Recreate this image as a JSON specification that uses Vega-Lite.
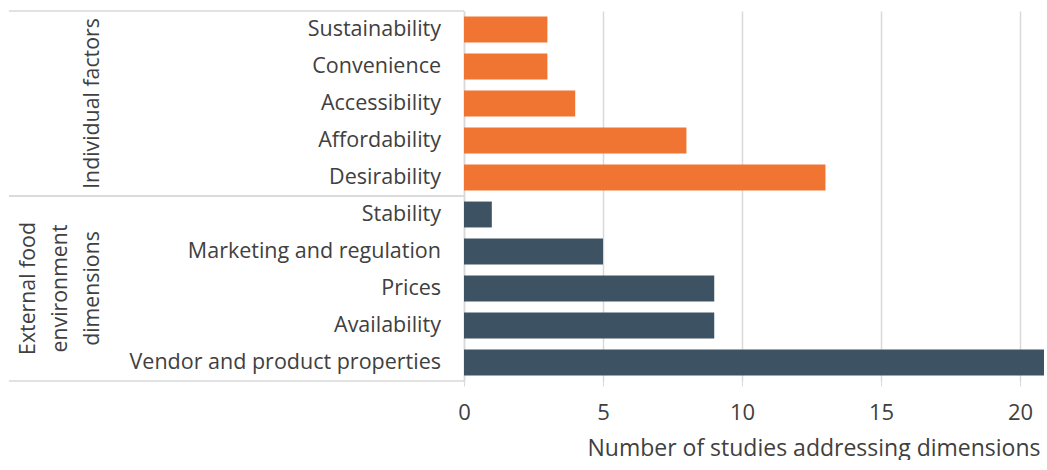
{
  "$schema": "https://vega.github.io/schema/vega-lite/v6.json",
  "padding": {"left": 8, "top": 10, "right": 0, "bottom": 0},
  "background": "white",
  "config": {"view": {"stroke": null}, "concat": {"spacing": 0}, "font": "Open Sans"},
  "bounds": "flush",
  "spacing": 0,
  "datasets": {
    "studies": [
      {"dimension": "Sustainability", "group": "Individual factors", "count": 3},
      {"dimension": "Convenience", "group": "Individual factors", "count": 3},
      {"dimension": "Accessibility", "group": "Individual factors", "count": 4},
      {"dimension": "Affordability", "group": "Individual factors", "count": 8},
      {"dimension": "Desirability", "group": "Individual factors", "count": 13},
      {"dimension": "Stability", "group": "External food\nenvironment\ndimensions", "count": 1},
      {"dimension": "Marketing and regulation", "group": "External food\nenvironment\ndimensions", "count": 5},
      {"dimension": "Prices", "group": "External food\nenvironment\ndimensions", "count": 9},
      {"dimension": "Availability", "group": "External food\nenvironment\ndimensions", "count": 9},
      {"dimension": "Vendor and product properties", "group": "External food\nenvironment\ndimensions", "count": 21}
    ]
  },
  "hconcat": [
    {
      "width": 90,
      "height": 370,
      "data": {"name": "studies"},
      "transform": [{"aggregate": [{"op": "count", "as": "n"}], "groupby": ["group"]}],
      "encoding": {
        "y": {"field": "group", "type": "nominal", "sort": ["Individual factors", "External food\nenvironment\ndimensions"], "scale": {"paddingInner": 0, "paddingOuter": 0}, "axis": null}
      },
      "layer": [
        {"mark": {"type": "rule", "color": "#d9d9d9", "strokeWidth": 1.5}, "encoding": {"y": {"field": "group", "type": "nominal", "bandPosition": 0, "sort": ["Individual factors", "External food\nenvironment\ndimensions"], "axis": null}}},
        {"mark": {"type": "rule", "color": "#d9d9d9", "strokeWidth": 1.5}, "encoding": {"y": {"field": "group", "type": "nominal", "bandPosition": 1, "sort": ["Individual factors", "External food\nenvironment\ndimensions"], "axis": null}}},
        {
          "transform": [{"filter": "datum.group === 'Individual factors'"}],
          "mark": {"type": "text", "angle": 270, "baseline": "alphabetic", "align": "center", "lineBreak": "\n", "fontSize": 21.3, "color": "#404040", "lineHeight": 32},
          "encoding": {"x": {"value": "width"}, "text": {"field": "group"}}
        },
        {
          "transform": [{"filter": "datum.group !== 'Individual factors'"}],
          "mark": {"type": "text", "angle": 270, "baseline": "alphabetic", "align": "center", "lineBreak": "\n", "fontSize": 21.3, "color": "#404040", "lineHeight": 32, "dy": -64},
          "encoding": {"x": {"value": "width"}, "text": {"field": "group"}}
        }
      ]
    },
    {
      "width": 365,
      "height": 370,
      "data": {"name": "studies"},
      "layer": [
        {
          "transform": [{"aggregate": [{"op": "count", "as": "n"}], "groupby": ["group"]}],
          "layer": [
            {"mark": {"type": "rule", "color": "#d9d9d9", "strokeWidth": 1.5}, "encoding": {"y": {"field": "group", "type": "nominal", "bandPosition": 0, "sort": ["Individual factors", "External food\nenvironment\ndimensions"], "scale": {"paddingInner": 0, "paddingOuter": 0}, "axis": null}}},
            {"mark": {"type": "rule", "color": "#d9d9d9", "strokeWidth": 1.5}, "encoding": {"y": {"field": "group", "type": "nominal", "bandPosition": 1, "sort": ["Individual factors", "External food\nenvironment\ndimensions"], "axis": null}}}
          ]
        },
        {
          "mark": {"type": "text", "align": "right", "baseline": "middle", "fontSize": 21.5, "color": "#404040", "dx": -23},
          "encoding": {
            "y": {"field": "dimension", "type": "nominal", "sort": null, "scale": {"paddingInner": 0, "paddingOuter": 0}, "axis": null},
            "x": {"value": "width"},
            "text": {"field": "dimension"}
          }
        }
      ],
      "resolve": {"scale": {"y": "independent"}}
    },
    {
      "width": 580,
      "height": 370,
      "data": {"name": "studies"},
      "mark": {"type": "bar", "height": {"band": 0.7}, "clip": true},
      "encoding": {
        "y": {"field": "dimension", "type": "nominal", "sort": null, "scale": {"paddingInner": 0, "paddingOuter": 0},
          "axis": {"labels": false, "ticks": false, "title": null, "domain": true, "domainColor": "#d9d9d9", "domainWidth": 1.5, "grid": false}},
        "x": {"field": "count", "type": "quantitative", "scale": {"domain": [0, 20.86], "nice": false},
          "axis": {"values": [0, 5, 10, 15, 20], "grid": true, "gridColor": "#d9d9d9", "gridWidth": 1.5, "domain": false, "ticks": true, "tickColor": "#d9d9d9", "tickSize": 5, "labelPadding": 16, "labelFlush": false, "labelFontSize": 22, "labelColor": "#404040", "labelFont": "Open Sans", "labelFontWeight": "normal",
            "title": "Number of studies addressing dimensions", "titleAnchor": "end", "titleAlign": "right", "titleX": 576, "titleFontSize": 23, "titleFontWeight": "normal", "titleColor": "#404040", "titleFont": "Open Sans", "titlePadding": 14}},
        "color": {"field": "group", "type": "nominal", "scale": {"domain": ["Individual factors", "External food\nenvironment\ndimensions"], "range": ["#F07532", "#3D5263"]}, "legend": null}
      }
    }
  ]
}
